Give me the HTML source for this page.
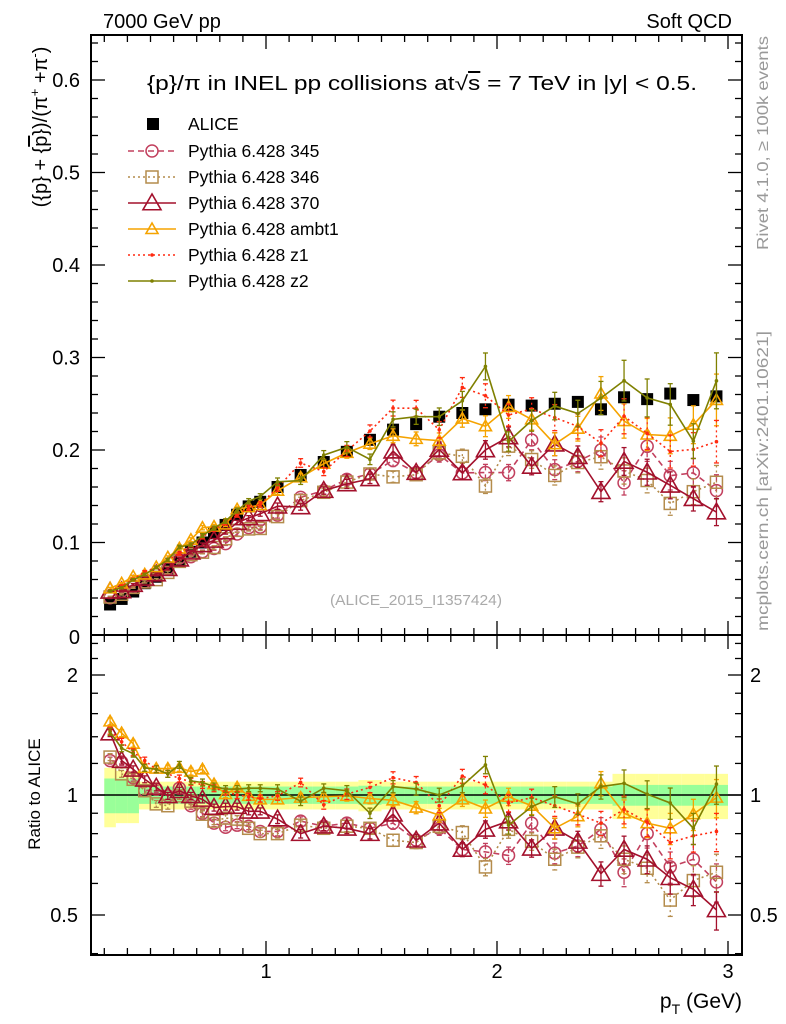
<!DOCTYPE html>
<html><head><meta charset="utf-8"><style>
html,body{margin:0;padding:0;background:#fff;}
svg{display:block;font-family:"Liberation Sans",Arial,sans-serif;}
</style></head><body>
<svg id="c" width="786" height="1024" viewBox="0 0 786 1024" xmlns="http://www.w3.org/2000/svg">
<rect x="0" y="0" width="786" height="1024" fill="#fff"/>
<text x="103" y="28" font-size="20">7000 GeV pp</text>
<text x="732" y="28" font-size="20" text-anchor="end">Soft QCD</text>
<text x="147" y="90" font-size="20" textLength="550" lengthAdjust="spacingAndGlyphs">{p}/π in INEL pp collisions at√<tspan text-decoration="overline">s</tspan> =  7 TeV in |y| &lt; 0.5.</text>
<text transform="translate(768,143) rotate(-90)" font-size="16" fill="#999" text-anchor="middle" textLength="214" lengthAdjust="spacingAndGlyphs">Rivet 4.1.0, ≥ 100k events</text>
<text transform="translate(768,481) rotate(-90)" font-size="16" fill="#999" text-anchor="middle" textLength="300" lengthAdjust="spacingAndGlyphs">mcplots.cern.ch [arXiv:2401.10621]</text>
<text x="416" y="605" font-size="15" fill="#aaa" text-anchor="middle" textLength="172" lengthAdjust="spacingAndGlyphs">(ALICE_2015_I1357424)</text>
<text transform="translate(47,127) rotate(-90)" font-size="20" text-anchor="middle">({p} + {<tspan text-decoration="overline">p</tspan>})/(π<tspan font-size="13" dy="-8">+</tspan><tspan dy="8"> +π</tspan><tspan font-size="13" dy="-8">-</tspan><tspan dy="8">)</tspan></text>
<text transform="translate(40,794) rotate(-90)" font-size="17" text-anchor="middle">Ratio to ALICE</text>
<text x="742" y="1008" font-size="21" text-anchor="end">p<tspan font-size="14" dy="6">T</tspan><tspan dy="-6"> (GeV)</tspan></text>
<g id="main"></g>
<g id="ratio"></g>
<g id="legend"></g>
</svg>
<script>
const pt = [0.325,0.375,0.425,0.475,0.525,0.575,0.625,0.675,0.725,0.775,0.825,0.875,0.925,0.975,1.05,1.15,1.25,1.35,1.45,1.55,1.65,1.75,1.85,1.95,2.05,2.15,2.25,2.35,2.45,2.55,2.65,2.75,2.85,2.95];
const alice = [0.033,0.039,0.047,0.056,0.063,0.072,0.080,0.090,0.100,0.110,0.119,0.130,0.139,0.144,0.160,0.173,0.187,0.198,0.211,0.222,0.228,0.236,0.240,0.244,0.249,0.248,0.250,0.252,0.244,0.257,0.255,0.261,0.254,0.258];
const aliceStatRel = [0.10,0.10,0.10,0.05,0.05,0.05,0.05,0.05,0.05,0.05,0.05,0.05,0.05,0.05,0.05,0.05,0.05,0.05,0.055,0.05,0.05,0.05,0.05,0.05,0.05,0.05,0.05,0.05,0.05,0.06,0.06,0.06,0.06,0.06];
const aliceTotRel = [0.17,0.15,0.15,0.08,0.08,0.08,0.08,0.08,0.08,0.08,0.08,0.08,0.08,0.08,0.08,0.08,0.08,0.08,0.09,0.08,0.08,0.08,0.08,0.08,0.08,0.08,0.08,0.08,0.08,0.13,0.13,0.13,0.13,0.13];
const r345 = [1.22,1.21,1.105,1.025,1.035,0.995,1.04,0.94,0.90,0.85,0.83,0.84,0.835,0.81,0.81,0.86,0.835,0.85,0.825,0.85,0.77,0.825,0.73,0.72,0.705,0.85,0.715,0.745,0.82,0.64,0.80,0.66,0.69,0.605];
const r346 = [1.245,1.13,1.095,1.025,0.95,0.94,0.995,0.965,0.895,0.86,0.875,0.87,0.825,0.80,0.80,0.84,0.825,0.835,0.825,0.77,0.76,0.835,0.805,0.66,0.82,0.765,0.69,0.74,0.79,0.69,0.655,0.545,0.61,0.64];
const r370 = [1.43,1.22,1.16,1.095,1.045,0.995,1.025,0.995,0.975,0.93,0.935,0.935,0.91,0.91,0.87,0.80,0.835,0.825,0.80,0.895,0.77,0.85,0.73,0.82,0.86,0.735,0.825,0.765,0.635,0.73,0.69,0.62,0.58,0.515];
const rAmbt1 = [1.53,1.43,1.345,1.17,1.165,1.165,1.17,1.145,1.16,1.065,1.005,1.045,0.995,0.975,0.975,0.985,0.99,0.995,0.98,0.97,0.93,0.89,0.975,0.925,0.99,0.94,0.825,0.885,1.07,0.90,0.85,0.825,0.895,0.985];
const rZ1 = [1.45,1.36,1.28,1.22,1.16,1.13,1.10,1.08,1.06,1.04,1.02,1.0,0.99,0.98,0.995,1.075,0.945,1.005,1.045,1.105,1.075,0.94,1.115,1.06,0.955,0.985,0.94,0.895,0.85,0.92,0.855,0.76,0.79,0.81];
const rZ2 = [1.44,1.31,1.27,1.17,1.16,1.13,1.19,1.085,1.075,1.05,1.035,1.035,1.04,1.04,1.035,0.965,1.04,1.025,0.90,1.05,1.035,1.0,1.055,1.19,0.84,0.935,0.99,0.95,1.05,1.07,1.005,0.955,0.825,1.065];
const mcErrRel = [0.02,0.02,0.02,0.02,0.02,0.02,0.02,0.02,0.02,0.02,0.02,0.02,0.02,0.02,0.025,0.025,0.025,0.03,0.03,0.035,0.035,0.04,0.04,0.05,0.05,0.05,0.06,0.06,0.07,0.08,0.08,0.09,0.09,0.11];
const xTicks = [1,2,3];
const mainYTicks = [0.1,0.2,0.3,0.4,0.5,0.6];
const ratioTicks = [0.5,1,2];

const NS="http://www.w3.org/2000/svg";
function mk(tag, attrs, parent){const e=document.createElementNS(NS,tag);for(const k in attrs)e.setAttribute(k,attrs[k]);parent.appendChild(e);return e;}
const X0=91,X1=742,MT=35,MB=635,RT=635,RB=955;
const xS=p=>35+231*p;
const yM=v=>635-925*v;
const yR=r=>795-120*Math.log2(r);
const main=document.getElementById('main'), ratio=document.getElementById('ratio'), legend=document.getElementById('legend');

mainYTicks.forEach(v=>{const t=mk('text',{x:80,y:yM(v)+7,'font-size':20,'text-anchor':'end'},main);t.textContent=v.toFixed(1);

});
{const t=mk('text',{x:80,y:644,'font-size':20,'text-anchor':'end'},main);t.textContent='0';

}

const series=[
 {name:'Pythia 6.428 345',r:r345,color:'#c2405e',dash:'6,4',marker:'circle',size:6},
 {name:'Pythia 6.428 346',r:r346,color:'#b48c4c',dash:'2,3',marker:'square',size:6},
 {name:'Pythia 6.428 370',r:r370,color:'#a3102c',dash:'',marker:'tri',size:9},
 {name:'Pythia 6.428 ambt1',r:rAmbt1,color:'#f5a300',dash:'',marker:'tri',size:6},
 {name:'Pythia 6.428 z1',r:rZ1,color:'#ff2a10',dash:'2,3',marker:'dot',size:1.8},
 {name:'Pythia 6.428 z2',r:rZ2,color:'#7f8000',dash:'',marker:'dot',size:1.8}
];
function marker(g,kind,x,y,s,color){
 let e;
 if(kind==='circle') e=mk('circle',{cx:x,cy:y,r:s,fill:'none',stroke:color,'stroke-width':1.5},g);
 else if(kind==='square') e=mk('rect',{x:x-s,y:y-s,width:2*s,height:2*s,fill:'none',stroke:color,'stroke-width':1.5},g);
 else if(kind==='tri') e=mk('polygon',{points:`${x},${y-s} ${x-s},${y+s*0.75} ${x+s},${y+s*0.75}`,fill:'none',stroke:color,'stroke-width':1.6},g);
 else if(kind==='fill') e=mk('rect',{x:x-s,y:y-s,width:2*s,height:2*s,fill:color},g);
 else e=mk('circle',{cx:x,cy:y,r:s,fill:color},g);
 return e;
}

mk('rect',{x:X0,y:RT,width:X1-X0,height:RB-RT,fill:'#fff'},ratio);
function edges(i){const lo=pt[i]<1?0.025:0.05;return [xS(pt[i]-lo),xS(pt[i]+lo)];}
pt.forEach((p,i)=>{const [a,b]=edges(i);
 const y=mk('rect',{x:a,y:yR(1+aliceTotRel[i]),width:b-a,height:yR(1-aliceTotRel[i])-yR(1+aliceTotRel[i]),fill:'#ffff99'},ratio);
 
 });
pt.forEach((p,i)=>{const [a,b]=edges(i);
 const g=mk('rect',{x:a,y:yR(1+aliceStatRel[i]),width:b-a,height:yR(1-aliceStatRel[i])-yR(1+aliceStatRel[i]),fill:'#99ff99'},ratio);
 
 });
mk('line',{x1:X0,x2:X1,y1:yR(1),y2:yR(1),stroke:'#000','stroke-width':1.5},ratio);

alice.forEach((v,i)=>{const x=xS(pt[i]),y=yM(v);
 mk('line',{x1:x,x2:x,y1:yM(v*1.02),y2:yM(v*0.98),stroke:'#000','stroke-width':1.2},main);
 const m=marker(main,'fill',x,y,6,'#000');
 
 });

series.forEach((s,si)=>{
 [[main,i=>yM(s.r[i]*alice[i]),i=>yM(s.r[i]*alice[i]*(1+mcErrRel[i])),i=>yM(s.r[i]*alice[i]*(1-mcErrRel[i]))],
  [ratio,i=>yR(s.r[i]),i=>yR(s.r[i]*(1+mcErrRel[i])),i=>yR(s.r[i]*(1-mcErrRel[i]))]].forEach(([g,fy,fu,fd])=>{
  const pts=pt.map((p,i)=>xS(p)+','+fy(i)).join(' ');
  const l=mk('polyline',{points:pts,fill:'none',stroke:s.color,'stroke-width':1.6,'stroke-dasharray':s.dash},g);
  
  
  pt.forEach((p,i)=>{const x=xS(p);
   mk('line',{x1:x,x2:x,y1:fu(i),y2:fd(i),stroke:s.color,'stroke-width':1.3,'stroke-dasharray':s.dash},g);
   mk('line',{x1:x-2.5,x2:x+2.5,y1:fu(i),y2:fu(i),stroke:s.color,'stroke-width':1.3},g);
   mk('line',{x1:x-2.5,x2:x+2.5,y1:fd(i),y2:fd(i),stroke:s.color,'stroke-width':1.3},g);
   const m=marker(g,s.marker,x,fy(i),s.size,s.color);
   
   
  });
 });
});

function frame(g,top,bot){mk('rect',{x:X0,y:top,width:X1-X0,height:bot-top,fill:'none',stroke:'#000','stroke-width':2},g);
 for(let k=3;k<=30;k++){const p=k/10,x=xS(p);const L=(k%10===0)?14:7;
  mk('line',{x1:x,x2:x,y1:bot,y2:bot-L,stroke:'#000','stroke-width':1.3},g);
  mk('line',{x1:x,x2:x,y1:top,y2:top+L,stroke:'#000','stroke-width':1.3},g);}
}
frame(main,MT,MB);
for(let k=1;k<=32;k++){const v=k*0.02,y=yM(v);if(y<MT)break;const L=(k%5===0)?14:7;
 mk('line',{x1:X0,x2:X0+L,y1:y,y2:y,stroke:'#000','stroke-width':1.3},main);
 mk('line',{x1:X1,x2:X1-L,y1:y,y2:y,stroke:'#000','stroke-width':1.3},main);}
frame(ratio,RT,RB);
[0.4,0.5,0.6,0.7,0.8,0.9,1,1.2,1.4,1.6,1.8,2,2.2,2.4].forEach(r=>{const y=yR(r);const L=ratioTicks.includes(r)?14:7;
 mk('line',{x1:X0,x2:X0+L,y1:y,y2:y,stroke:'#000','stroke-width':1.3},ratio);
 mk('line',{x1:X1,x2:X1-L,y1:y,y2:y,stroke:'#000','stroke-width':1.3},ratio);});
ratioTicks.forEach(r=>{const y=yR(r)+7;
 const a=mk('text',{x:78,y:y,'font-size':20,'text-anchor':'end'},ratio);a.textContent=String(r);
 
 
 const b=mk('text',{x:750,y:y,'font-size':20},ratio);b.textContent=String(r);
 
 });
xTicks.forEach(p=>{const t=mk('text',{x:xS(p),y:978,'font-size':20,'text-anchor':'middle'},ratio);t.textContent=String(p);
 
 });

const ly=[124,151,177,203,229,255,281];
{const m=marker(legend,'fill',153,ly[0],6,'#000');
 
 
 const t=mk('text',{x:188,y:ly[0]+6,'font-size':17.5},legend);t.textContent='ALICE';
 
 }
series.forEach((s,i)=>{const y=ly[i+1];
 mk('line',{x1:128,x2:176,y1:y,y2:y,stroke:s.color,'stroke-width':1.5,'stroke-dasharray':s.dash},legend);
 const m=marker(legend,s.marker,152,y,s.size,s.color);
 
 
 const t=mk('text',{x:188,y:y+6,'font-size':17.5},legend);t.textContent=s.name;
 
 });
</script>
</body></html>
